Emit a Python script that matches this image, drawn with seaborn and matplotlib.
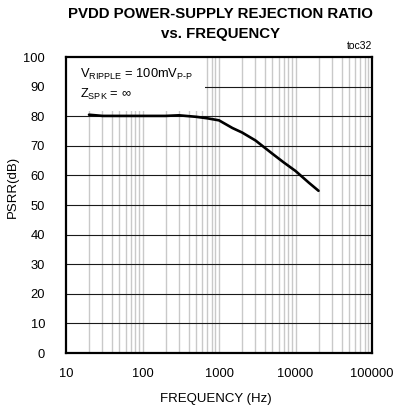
import matplotlib
matplotlib.use("Agg")
import matplotlib.pyplot as plt
import matplotlib.patches as mpatches
from matplotlib.ticker import FixedLocator, NullFormatter
import numpy as np
import pandas as pd
import seaborn as sns

# PSRR vs. frequency
freq_hz = [20, 30, 50, 70, 100, 150, 200, 300, 500, 700, 1000,
           1500, 2000, 3000, 5000, 7000, 10000, 15000, 20000]
psrr_db = [80.5, 80.1, 80.1, 80.1, 80.1, 80.1, 80.1, 80.3, 79.8, 79.3, 78.6,
           76.0, 74.5, 71.8, 67.3, 64.4, 61.5, 57.5, 54.8]

x_ticks = [10, 100, 1000, 10000, 100000]
x_tick_labels = ["10", "100", "1000", "10000", "100000"]
y_ticks = list(range(0, 101, 10))

df = pd.DataFrame({"freq": freq_hz, "psrr": psrr_db})

sns.set_style("white")
plt.rcParams["font.family"] = ["Liberation Sans", "DejaVu Sans"]
plt.rcParams["mathtext.fontset"] = "custom"
plt.rcParams["mathtext.rm"] = "Liberation Sans"
plt.rcParams["mathtext.it"] = "Liberation Sans"
for key in ["text.color", "axes.labelcolor", "xtick.color", "ytick.color",
            "xtick.labelcolor", "ytick.labelcolor"]:
    plt.rcParams[key] = "black"

fig = plt.figure(figsize=(3.93, 4.08), dpi=100)
ax = fig.add_axes([66 / 393, 55 / 408, 306 / 393, 296 / 408])

sns.lineplot(data=df, x="freq", y="psrr", ax=ax, color="black",
             linewidth=1.9, zorder=5)

ax.set_xscale("log")
ax.set_xlim(10, 100000)
ax.set_ylim(0, 100)

# vertical grid on every decade and sub-decade
minor_pos = [m * 10 ** d for d in range(1, 5) for m in range(2, 10)]
decade_pos = [100, 1000, 10000]
for xv in minor_pos + decade_pos:
    ax.axvline(xv, color="#c9c9c9", linewidth=1.0, zorder=1)
for yv in y_ticks[1:-1]:
    ax.axhline(yv, color="#1a1a1a", linewidth=0.8, zorder=2)

# white panel behind the condition labels
ax.add_patch(mpatches.Rectangle((0, 0.818), 0.455, 0.182, transform=ax.transAxes,
                                facecolor="white", edgecolor="none", zorder=3))

ax.xaxis.set_major_locator(FixedLocator(x_ticks))
ax.set_xticklabels(x_tick_labels)
ax.xaxis.set_minor_formatter(NullFormatter())
ax.set_yticks(y_ticks)
ax.tick_params(axis="y", direction="in", length=4, width=0.8, color="black",
               labelsize=9.3, pad=15, labelcolor="black")
ax.tick_params(axis="x", which="both", length=0, labelsize=9.3, pad=11,
               labelcolor="black")

for s in ax.spines.values():
    s.set_linewidth(1.6)
    s.set_color("black")
    s.set_zorder(6)

ax.set_xlabel("FREQUENCY (Hz)", fontsize=9.5, color="black")
ax.xaxis.set_label_coords(0.49, -0.135)
ax.set_ylabel("PSRR(dB)", fontsize=9.5, color="black")
ax.yaxis.set_label_coords(-0.155, 0.56)

fig.text(0.562, 0.965, "PVDD POWER-SUPPLY REJECTION RATIO", ha="center", va="center",
         fontsize=10.8, fontweight="bold", color="black")
fig.text(0.562, 0.916, "vs. FREQUENCY", ha="center", va="center",
         fontsize=10.8, fontweight="bold", color="black")
fig.text(372 / 393, 0.888, "toc32", ha="right", va="center", fontsize=7.5,
         color="black")

ax.text(0.047, 0.94, r"V$_{\mathregular{RIPPLE}}$ = 100mV$_{\mathregular{P‐P}}$",
        transform=ax.transAxes, fontsize=9.3, va="center", zorder=4, color="black")
ax.text(0.047, 0.875, r"Z$_{\mathregular{SPK}}$ = ∞",
        transform=ax.transAxes, fontsize=9.3, va="center", zorder=4, color="black")

fig.savefig("out.png", dpi=100)
